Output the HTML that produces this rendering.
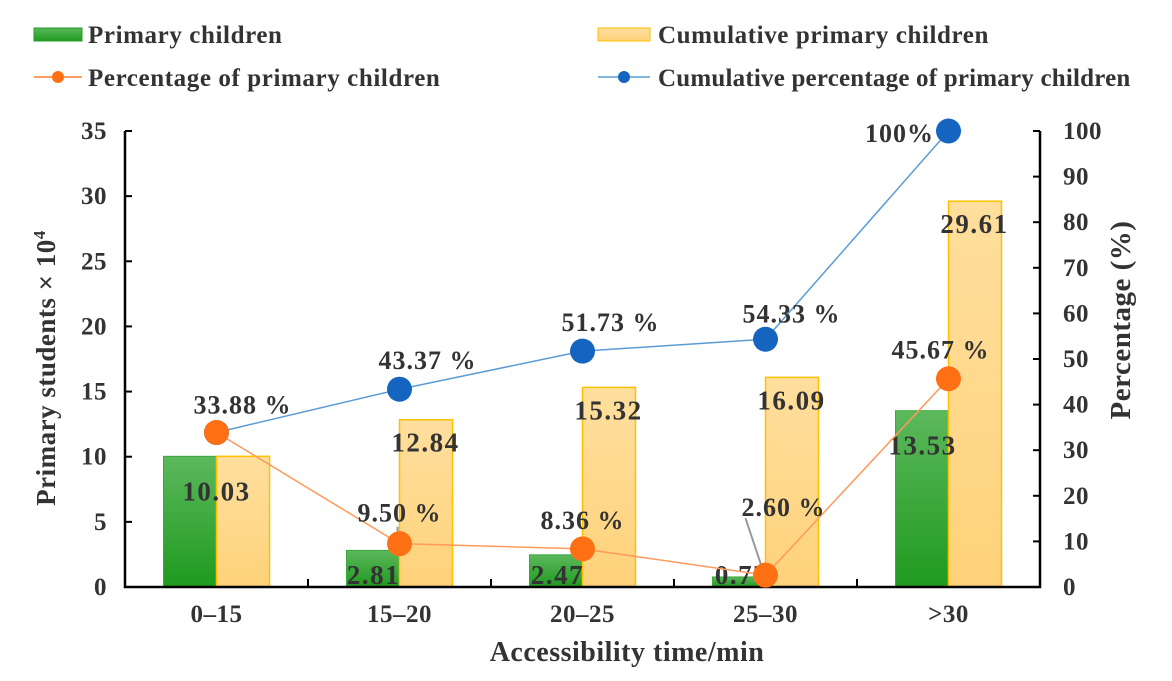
<!DOCTYPE html>
<html><head><meta charset="utf-8"><style>
html,body{margin:0;padding:0;background:#fff;}
svg{display:block;}
text{font-family:"Liberation Serif",serif;font-weight:bold;fill:#333;}
</style></head><body>
<svg id="chart" width="1172" height="681" viewBox="0 0 1172 681">
<defs>
<linearGradient id="gg" x1="0" y1="0" x2="0" y2="1"><stop offset="0" stop-color="#5cb85c"/><stop offset="1" stop-color="#1f9a1f"/></linearGradient>
<linearGradient id="og" x1="0" y1="0" x2="0" y2="1"><stop offset="0" stop-color="#ffdf9e"/><stop offset="1" stop-color="#ffd27a"/></linearGradient>
</defs>
<g>
<rect x="34" y="28" width="48" height="13" fill="url(#gg)" stroke="#2a9a2a"/>
<text x="88" y="43" font-size="25" letter-spacing="0.6">Primary children</text>
<rect x="598" y="28" width="52" height="13" fill="url(#og)" stroke="#ffc000"/>
<text x="658" y="43" font-size="25" letter-spacing="0.6">Cumulative primary children</text>
<line x1="34" y1="77" x2="82" y2="77" stroke="#ff7f2a" stroke-width="1.5"/>
<circle cx="58" cy="77" r="6" fill="#ff7014"/>
<text x="88" y="86" font-size="25" letter-spacing="0.6">Percentage of primary children</text>
<line x1="598" y1="77" x2="650" y2="77" stroke="#5b9bd5" stroke-width="1.5"/>
<circle cx="624" cy="77" r="6" fill="#1565c0"/>
<text x="658" y="86" font-size="25" letter-spacing="0.2">Cumulative percentage of primary children</text>
</g>
<g id="plot"></g>
<text x="627" y="661" font-size="28" letter-spacing="0.5" text-anchor="middle">Accessibility time/min</text>
<text transform="translate(55,368) rotate(-90)" font-size="27" letter-spacing="0.5" text-anchor="middle">Primary students × 10<tspan dy="-10" font-size="17">4</tspan></text>
<text transform="translate(1130,320) rotate(-90)" font-size="29" letter-spacing="0.5" text-anchor="middle">Percentage (%)</text>
</svg>
<script>
const categories = ["0–15","15–20","20–25","25–30",">30"];
const primary = [10.03, 2.81, 2.47, 0.77, 13.53];
const cumulative = [10.03, 12.84, 15.32, 16.09, 29.61];
const pct = [33.88, 9.50, 8.36, 2.60, 45.67];
const cumPct = [33.88, 43.37, 51.73, 54.33, 100];
const pctLabels = ["", "9.50 %", "8.36 %", "2.60 %", "45.67 %"];
const cumPctLabels = ["33.88 %", "43.37 %", "51.73 %", "54.33 %", "100%"];
const leftTicks = [0,5,10,15,20,25,30,35];
const rightTicks = [0,10,20,30,40,50,60,70,80,90,100];

const L=125, R=1040, T=131, B=587;
const bw=(R-L)/categories.length;
const xc=i=>L+bw*(i+0.5);
const yl=v=>B-(v/35)*(B-T);
const yr=v=>B-(v/100)*(B-T);
const NS="http://www.w3.org/2000/svg";
const g=document.getElementById('plot');
function mk(tag,attrs,txt){const e=document.createElementNS(NS,tag);for(const k in attrs)e.setAttribute(k,attrs[k]);if(txt!==undefined)e.textContent=txt;g.appendChild(e);return e;}

primary.forEach((v,i)=>{
 const r=mk('rect',{x:xc(i)-53,y:yl(v),width:53,height:B-yl(v),fill:'url(#gg)',stroke:'#3aa83a','stroke-width':1});
 
 
});
cumulative.forEach((v,i)=>{
 const r=mk('rect',{x:xc(i),y:yl(v),width:53,height:B-yl(v),fill:'url(#og)',stroke:'#ffc000','stroke-width':1.5});
 
 
});
mk('path',{d:`M${L} ${T} V${B} H${R} V${T}`,fill:'none',stroke:'#000','stroke-width':2.5});
leftTicks.forEach(v=>{
 mk('line',{x1:L,x2:L+7,y1:yl(v),y2:yl(v),stroke:'#000','stroke-width':2});
 const t=mk('text',{x:L-18,y:yl(v)+8,'font-size':25,'letter-spacing':0.5,'text-anchor':'end'},v);
 
 
});
rightTicks.forEach(v=>{
 mk('line',{x1:R-7,x2:R,y1:yr(v),y2:yr(v),stroke:'#000','stroke-width':2});
 const t=mk('text',{x:R+23,y:yr(v)+8,'font-size':25,'letter-spacing':0.5},v);
 
 
});
categories.forEach((c,i)=>{
 if(i>0) mk('line',{x1:L+bw*i,x2:L+bw*i,y1:B,y2:B-8,stroke:'#000','stroke-width':2});
 const t=mk('text',{x:xc(i),y:B+35,'font-size':25,'letter-spacing':0.5,'text-anchor':'middle'},c);
 
 
});
const gOff=[[0,0],[-26,0],[-25,0],[-24,0],[-26,0]];
primary.forEach((v,i)=>{
 const y=i===0||i===4? yl(v)+44 : B-3;
 const t=mk('text',{x:xc(i)+gOff[i][0],y:y,'font-size':27,'letter-spacing':1.5,'text-anchor':'middle'},v.toFixed(2));
 
 
});
cumulative.forEach((v,i)=>{
 if(i===0) return;
 const t=mk('text',{x:xc(i)+26,y:yl(v)+32,'font-size':27,'letter-spacing':1.5,'text-anchor':'middle'},v.toFixed(2));
 
 
});
mk('polyline',{points:cumPct.map((v,i)=>xc(i)+','+yr(v)).join(' '),fill:'none',stroke:'#5b9bd5','stroke-width':1.5});
mk('polyline',{points:pct.map((v,i)=>xc(i)+','+yr(v)).join(' '),fill:'none',stroke:'#ff9a5a','stroke-width':1.5});
mk('line',{x1:xc(3)-20,y1:yr(pct[3])-57,x2:xc(3)-1,y2:yr(pct[3]),stroke:'#999','stroke-width':2});
mk('line',{x1:xc(1)-2,y1:yr(pct[1])-17,x2:xc(1)-2,y2:yr(pct[1]),stroke:'#999','stroke-width':2});
cumPct.forEach((v,i)=>{
 const c=mk('circle',{cx:xc(i),cy:yr(v),r:12.5,fill:'#1565c0'});
 
 
});
pct.forEach((v,i)=>{
 const c=mk('circle',{cx:xc(i),cy:yr(v),r:12.5,fill:'#ff7014'});
 
 
});
const cOff=[[26,-19],[28,-20],[28,-20],[26,-17],[-49,11]];
cumPct.forEach((v,i)=>{
 const t=mk('text',{x:xc(i)+cOff[i][0],y:yr(v)+cOff[i][1],'font-size':26,'letter-spacing':1,'text-anchor':'middle'},cumPctLabels[i]);
 
 
});
const pOff=[[0,0],[0,-22],[0,-20],[18,-59],[-8,-20]];
pct.forEach((v,i)=>{
 if(!pctLabels[i]) return;
 const t=mk('text',{x:xc(i)+pOff[i][0],y:yr(v)+pOff[i][1],'font-size':26,'letter-spacing':1,'text-anchor':'middle'},pctLabels[i]);
 
 
});
</script>
</body></html>
